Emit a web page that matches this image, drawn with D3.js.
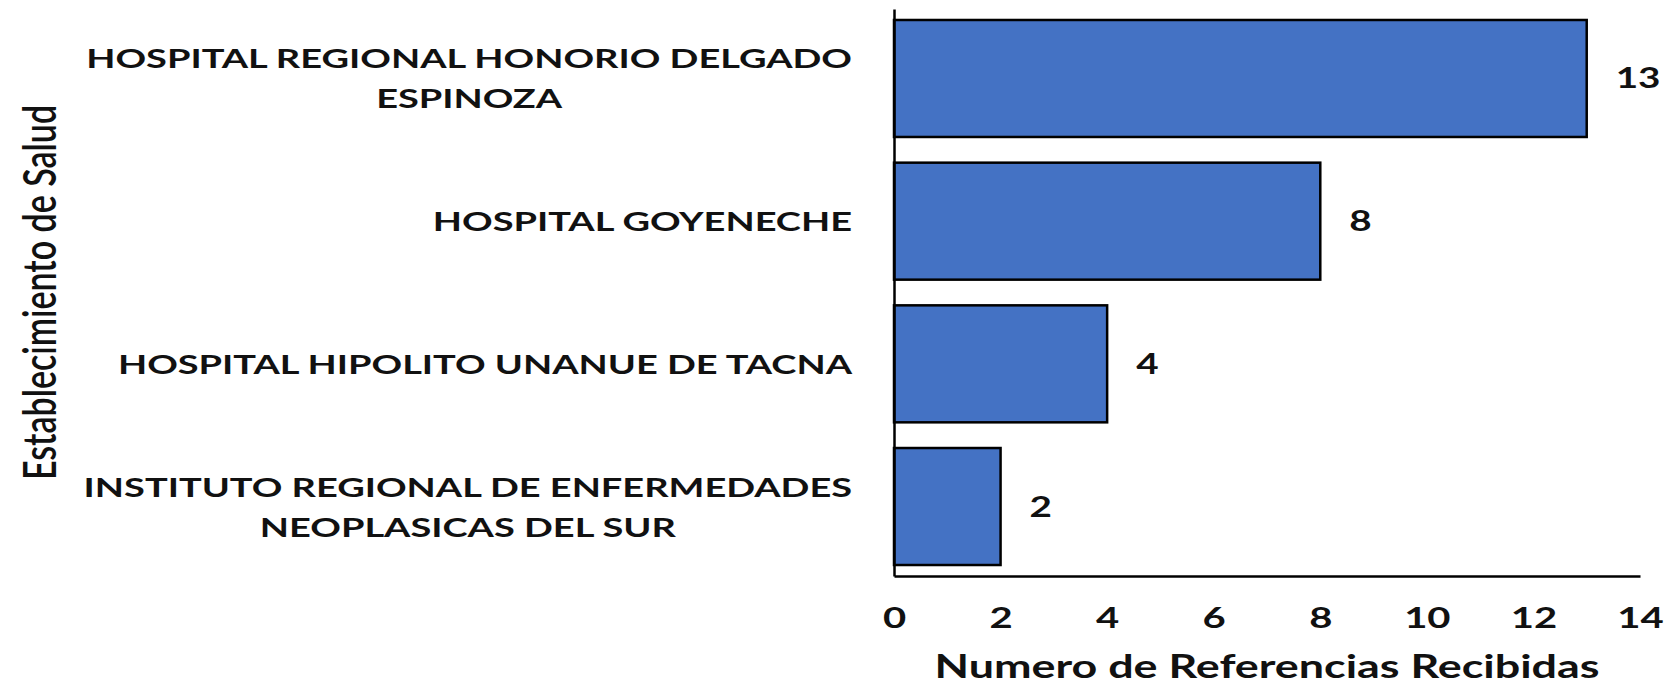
<!DOCTYPE html>
<html lang="es">
<head>
  <meta charset="utf-8">
  <title>Numero de Referencias Recibidas</title>
  <script src="https://d3js.org/d3.v7.min.js"></script>
<style>
html, body {
  margin: 0;
  padding: 0;
  background: #fff;
}
svg text {
  font-family: Lato, "Open Sans", sans-serif;
  fill: #111;
}
</style>
</head>
<body>
<svg></svg>
<script>

var establecimientos = [
  ['HOSPITAL REGIONAL HONORIO DELGADO', 'ESPINOZA'],
  ['HOSPITAL GOYENECHE'],
  ['HOSPITAL HIPOLITO UNANUE DE TACNA'],
  ['INSTITUTO REGIONAL DE ENFERMEDADES', 'NEOPLASICAS DEL SUR']
]
var referencias = [13, 8, 4, 2]
var xTicks = [0, 2, 4, 6, 8, 10, 12, 14]

var yTitle = 'Establecimiento de Salud'
var xTitle = 'Numero de Referencias Recibidas'

// the original picture is stretched sideways, so is the text
var SX = 1.38

function drawChart() {
  var width = 1670, height = 687
  var left = 894, right = 1640, top = 9, bottom = 576

  var svg = d3.select('svg')
    .attr('width', width)
    .attr('height', height)

  var x = d3.scaleLinear()
    .domain([0, 14])
    .range([left, right])

  var y = d3.scaleBand()
    .domain(d3.range(establecimientos.length))
    .range([top, bottom])
    .paddingInner(0.18)
    .paddingOuter(0.077)

  // bars
  svg.append('g')
    .selectAll('rect')
    .data(referencias)
    .join('rect')
    .attr('x', x(0))
    .attr('y', (d, i) => y(i))
    .attr('width', d => x(d) - x(0))
    .attr('height', y.bandwidth())
    .attr('fill', '#4472c4')
    .attr('stroke', '#000')
    .attr('stroke-width', 2.5)

  // value labels
  svg.append('g')
    .selectAll('text')
    .data(referencias)
    .join('text')
    .attr('transform', (d, i) => `translate(${x(d) + 29}, ${y(i) + y.bandwidth() / 2 + 10}) scale(${SX}, 1)`)
    .attr('font-size', 28)
    .attr('font-weight', 'bold')
    .text(d => d)

  // x axis
  var xAxis = svg.append('g')
    .attr('transform', `translate(0, ${bottom})`)
    .call(d3.axisBottom(x).tickValues(xTicks).tickSize(0).tickSizeOuter(0))
  xAxis.select('.domain')
    .attr('stroke', '#000')
    .attr('stroke-width', 2.5)
  xAxis.selectAll('.tick text')
    .attr('y', 0)
    .attr('dy', 0)
    .attr('transform', `translate(0, 52) scale(${SX}, 1)`)
    .attr('font-family', null)
    .attr('font-size', 29)
    .attr('font-weight', 'bold')
    .attr('fill', '#111')

  // y axis, no ticks
  var yAxis = svg.append('g')
    .attr('transform', `translate(${left}, 0)`)
    .call(d3.axisLeft(y).tickSize(0).tickSizeOuter(0).tickFormat(''))
  yAxis.select('.domain')
    .attr('stroke', '#000')
    .attr('stroke-width', 2.5)

  // category labels, each line centred, the block right-aligned
  var labels = svg.append('g')
    .selectAll('g')
    .data(establecimientos)
    .join('g')

  labels.each(function(lines, i) {
    var g = d3.select(this)
    var inner = g.append('g').attr('transform', `scale(${SX}, 1)`)
    lines.forEach((line, k) => {
      inner.append('text')
        .attr('text-anchor', 'middle')
        .attr('y', k * 40)
        .attr('font-size', 27.5)
        .attr('font-weight', 'bold')
        .text(line)
    })
    var w = d3.max(inner.selectAll('text').nodes(), n => n.getComputedTextLength()) * SX
    var cy = y(i) + y.bandwidth() / 2 - (lines.length - 1) * 20 + 10
    g.attr('transform', `translate(${left - 42 - w / 2}, ${cy})`)
  })

  // axis titles
  svg.append('text')
    .attr('transform', `translate(${(left + right) / 2}, 678) scale(${SX}, 1)`)
    .attr('text-anchor', 'middle')
    .attr('font-size', 32.5)
    .attr('font-weight', 'bold')
    .text(xTitle)

  svg.append('text')
    .attr('transform', `translate(56, ${(top + bottom) / 2}) scale(${SX}, 1) rotate(-90)`)
    .attr('text-anchor', 'middle')
    .attr('font-size', 34)
    .attr('font-weight', 600)
    .text(yTitle)
}

drawChart()

</script>
</body>
</html>
